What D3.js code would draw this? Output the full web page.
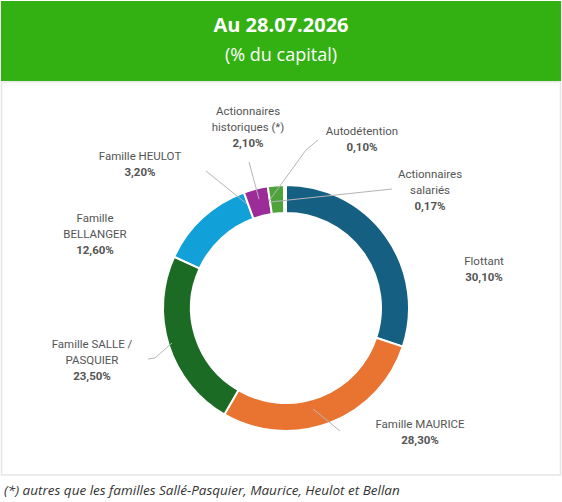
<!DOCTYPE html>
<html><head><meta charset="utf-8">
<script src="https://cdn.jsdelivr.net/npm/d3@7"></script>
<style>body{margin:0;background:#fff;font-family:Roboto,sans-serif}</style>
</head><body><div id="chart"></div>
<script>
const labels = ['Flottant', 'Famille MAURICE', 'Famille SALLE / PASQUIER', 'Famille BELLANGER', 'Famille HEULOT', 'Actionnaires historiques (*)', 'Autodétention', 'Actionnaires salariés'];
const values = [30.10, 28.30, 23.50, 12.60, 3.20, 2.10, 0.10, 0.17];
const colors = ['#155f83', '#e97431', '#1c6b24', '#11a0d8', '#9b2c98', '#4ea33a', '#2f7a2f', '#9aa0a6'];
// label text lines and positions
const labelLines = [
  ['Flottant'], ['Famille MAURICE'], ['Famille SALLE /', 'PASQUIER'], ['Famille', 'BELLANGER'],
  ['Famille HEULOT'], ['Actionnaires', 'historiques (*)'], ['Autodétention'], ['Actionnaires', 'salariés']
];
const labelPos = [[484, 265], [420, 428], [92, 348], [95, 222], [140, 160], [248, 115], [362, 135], [430, 178]];
const leaders = [null, [[313, 409], [340, 431]], [[172, 343], [155, 358], [148, 359]], null,
  [[247, 204], [206, 171]], [[259, 199], [249, 162]], [[269, 201], [306, 150], [318, 140]], [[270, 202], [392, 189]]];

const svg = d3.select('#chart').append('svg').attr('width', 562).attr('height', 502);
svg.append('rect').attr('x', 1).attr('y', 1).attr('width', 560).attr('height', 80).attr('fill', '#33b012');
svg.append('text').attr('x', 281).attr('y', 32).attr('text-anchor', 'middle').attr('fill', '#fff')
  .style('font-family', 'Open Sans').style('font-weight', 700).style('font-size', '20px').text('Au 28.07.2026');
svg.append('text').attr('x', 281).attr('y', 61).attr('text-anchor', 'middle').attr('fill', '#fff')
  .style('font-family', 'Open Sans').style('font-size', '18px').text('(% du capital)');
svg.append('rect').attr('x', 1.5).attr('y', 82).attr('width', 559).attr('height', 393)
  .attr('fill', 'none').attr('stroke', '#e6e6e6').attr('stroke-width', 1.5);

const cx = 286, cy = 308;
const g = svg.append('g').attr('transform', `translate(${cx},${cy})`);
const pie = d3.pie().sort(null).value(d => d);
const arc = d3.arc().innerRadius(95).outerRadius(123);
g.selectAll('path').data(pie(values)).enter().append('path')
  .attr('d', arc).attr('fill', (d, i) => colors[i]).attr('stroke', '#fff').attr('stroke-width', 2);

leaders.forEach(pts => {
  if (!pts) return;
  svg.append('polyline').attr('points', pts.map(p => p.join(',')).join(' '))
    .attr('fill', 'none').attr('stroke', '#b5b5b5').attr('stroke-width', 1);
});

labels.forEach((name, i) => {
  const [x, y] = labelPos[i];
  const t = svg.append('text').attr('x', x).attr('y', y).attr('text-anchor', 'middle')
    .style('font-size', '11.5px').attr('fill', '#555');
  labelLines[i].forEach((l, j) => t.append('tspan').attr('x', x).attr('dy', j ? 16 : 0).text(l));
  t.append('tspan').attr('x', x).attr('dy', 16).style('font-weight', 700)
    .text(d3.format('.2f')(values[i]).replace('.', ',') + '%');
});

svg.append('text').attr('x', 4).attr('y', 495).style('font-family', 'Open Sans').style('font-style', 'italic')
  .style('font-size', '13.5px').attr('fill', '#333').text('(*) autres que les familles Sallé-Pasquier, Maurice, Heulot et Bellan');
</script></body></html>
